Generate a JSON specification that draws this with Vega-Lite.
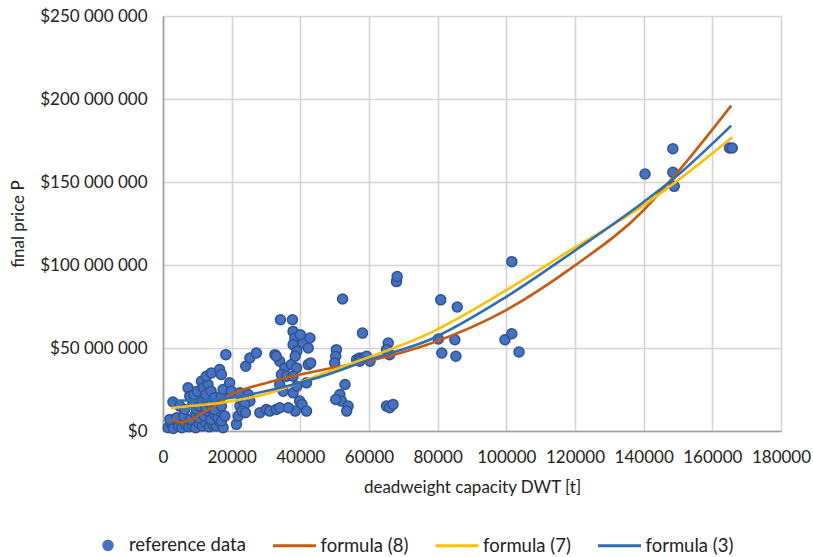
{
  "$schema": "https://vega.github.io/schema/vega-lite/v6.json",
  "autosize": {"type": "none"},
  "padding": {"left": 163, "top": 16, "right": 32, "bottom": 126},
  "width": 618,
  "height": 415,
  "background": "white",
  "config": {
    "font": "Lato",
    "locale": {"number": {"decimal": ".", "thousands": " ", "grouping": [3], "currency": ["$", ""]}},
    "view": {"stroke": null},
    "axis": {
      "labelFont": "Lato", "labelFontSize": 17, "labelColor": "#222222",
      "titleFont": "Lato", "titleFontSize": 17, "titleFontWeight": "normal", "titleColor": "#222222",
      "gridColor": "#D4D4D4", "gridWidth": 1.6,
      "domainColor": "#A0A0A0", "domainWidth": 1.6,
      "ticks": false, "labelOverlap": false, "labelFlush": false
    }
  },
  "datasets": {
    "points": [
      {"dwt": 1500, "price": 2000000, "series": "reference data"},
      {"dwt": 2500, "price": 4000000, "series": "reference data"},
      {"dwt": 3000, "price": 1500000, "series": "reference data"},
      {"dwt": 4500, "price": 3000000, "series": "reference data"},
      {"dwt": 5500, "price": 2000000, "series": "reference data"},
      {"dwt": 6500, "price": 4000000, "series": "reference data"},
      {"dwt": 7500, "price": 2500000, "series": "reference data"},
      {"dwt": 8500, "price": 3500000, "series": "reference data"},
      {"dwt": 9500, "price": 2000000, "series": "reference data"},
      {"dwt": 10500, "price": 4500000, "series": "reference data"},
      {"dwt": 11500, "price": 3000000, "series": "reference data"},
      {"dwt": 12500, "price": 5000000, "series": "reference data"},
      {"dwt": 13500, "price": 2500000, "series": "reference data"},
      {"dwt": 14500, "price": 4000000, "series": "reference data"},
      {"dwt": 15500, "price": 3000000, "series": "reference data"},
      {"dwt": 16500, "price": 5500000, "series": "reference data"},
      {"dwt": 17500, "price": 2000000, "series": "reference data"},
      {"dwt": 21400, "price": 4000000, "series": "reference data"},
      {"dwt": 2000, "price": 7000000, "series": "reference data"},
      {"dwt": 4000, "price": 8000000, "series": "reference data"},
      {"dwt": 6000, "price": 9000000, "series": "reference data"},
      {"dwt": 8000, "price": 7000000, "series": "reference data"},
      {"dwt": 9500, "price": 10000000, "series": "reference data"},
      {"dwt": 10500, "price": 8000000, "series": "reference data"},
      {"dwt": 11000, "price": 11000000, "series": "reference data"},
      {"dwt": 12000, "price": 9000000, "series": "reference data"},
      {"dwt": 13000, "price": 12000000, "series": "reference data"},
      {"dwt": 14000, "price": 7000000, "series": "reference data"},
      {"dwt": 15000, "price": 10000000, "series": "reference data"},
      {"dwt": 16000, "price": 8000000, "series": "reference data"},
      {"dwt": 16500, "price": 12000000, "series": "reference data"},
      {"dwt": 17000, "price": 6000000, "series": "reference data"},
      {"dwt": 18000, "price": 9000000, "series": "reference data"},
      {"dwt": 2900, "price": 17500000, "series": "reference data"},
      {"dwt": 4900, "price": 15000000, "series": "reference data"},
      {"dwt": 6300, "price": 13000000, "series": "reference data"},
      {"dwt": 8700, "price": 17000000, "series": "reference data"},
      {"dwt": 9700, "price": 13000000, "series": "reference data"},
      {"dwt": 10500, "price": 15000000, "series": "reference data"},
      {"dwt": 11500, "price": 18000000, "series": "reference data"},
      {"dwt": 12500, "price": 14000000, "series": "reference data"},
      {"dwt": 13000, "price": 19000000, "series": "reference data"},
      {"dwt": 14000, "price": 16000000, "series": "reference data"},
      {"dwt": 15000, "price": 13000000, "series": "reference data"},
      {"dwt": 16000, "price": 18000000, "series": "reference data"},
      {"dwt": 17000, "price": 15000000, "series": "reference data"},
      {"dwt": 7300, "price": 26000000, "series": "reference data"},
      {"dwt": 7800, "price": 21000000, "series": "reference data"},
      {"dwt": 9000, "price": 22000000, "series": "reference data"},
      {"dwt": 10000, "price": 24000000, "series": "reference data"},
      {"dwt": 11200, "price": 30000000, "series": "reference data"},
      {"dwt": 11700, "price": 26000000, "series": "reference data"},
      {"dwt": 12500, "price": 22000000, "series": "reference data"},
      {"dwt": 13100, "price": 28000000, "series": "reference data"},
      {"dwt": 14000, "price": 24000000, "series": "reference data"},
      {"dwt": 15000, "price": 20000000, "series": "reference data"},
      {"dwt": 17000, "price": 21000000, "series": "reference data"},
      {"dwt": 17500, "price": 25000000, "series": "reference data"},
      {"dwt": 19400, "price": 29000000, "series": "reference data"},
      {"dwt": 19900, "price": 24000000, "series": "reference data"},
      {"dwt": 12600, "price": 33000000, "series": "reference data"},
      {"dwt": 14100, "price": 35000000, "series": "reference data"},
      {"dwt": 16500, "price": 37000000, "series": "reference data"},
      {"dwt": 17000, "price": 34000000, "series": "reference data"},
      {"dwt": 18300, "price": 46000000, "series": "reference data"},
      {"dwt": 21900, "price": 9000000, "series": "reference data"},
      {"dwt": 22400, "price": 15000000, "series": "reference data"},
      {"dwt": 22900, "price": 19000000, "series": "reference data"},
      {"dwt": 22400, "price": 23000000, "series": "reference data"},
      {"dwt": 24800, "price": 22000000, "series": "reference data"},
      {"dwt": 25300, "price": 18000000, "series": "reference data"},
      {"dwt": 23800, "price": 16000000, "series": "reference data"},
      {"dwt": 24100, "price": 39000000, "series": "reference data"},
      {"dwt": 25300, "price": 44000000, "series": "reference data"},
      {"dwt": 27200, "price": 47000000, "series": "reference data"},
      {"dwt": 23000, "price": 12000000, "series": "reference data"},
      {"dwt": 24000, "price": 11000000, "series": "reference data"},
      {"dwt": 28200, "price": 11000000, "series": "reference data"},
      {"dwt": 30100, "price": 13000000, "series": "reference data"},
      {"dwt": 31100, "price": 12000000, "series": "reference data"},
      {"dwt": 33000, "price": 13000000, "series": "reference data"},
      {"dwt": 34000, "price": 14000000, "series": "reference data"},
      {"dwt": 32600, "price": 46000000, "series": "reference data"},
      {"dwt": 34000, "price": 42000000, "series": "reference data"},
      {"dwt": 35500, "price": 38000000, "series": "reference data"},
      {"dwt": 34500, "price": 34000000, "series": "reference data"},
      {"dwt": 34000, "price": 28000000, "series": "reference data"},
      {"dwt": 33000, "price": 45000000, "series": "reference data"},
      {"dwt": 34200, "price": 67000000, "series": "reference data"},
      {"dwt": 36000, "price": 33000000, "series": "reference data"},
      {"dwt": 35000, "price": 24000000, "series": "reference data"},
      {"dwt": 37700, "price": 67000000, "series": "reference data"},
      {"dwt": 37900, "price": 60000000, "series": "reference data"},
      {"dwt": 38400, "price": 56000000, "series": "reference data"},
      {"dwt": 37900, "price": 52000000, "series": "reference data"},
      {"dwt": 40800, "price": 53000000, "series": "reference data"},
      {"dwt": 42800, "price": 56000000, "series": "reference data"},
      {"dwt": 42300, "price": 50000000, "series": "reference data"},
      {"dwt": 39000, "price": 48000000, "series": "reference data"},
      {"dwt": 37400, "price": 40000000, "series": "reference data"},
      {"dwt": 38900, "price": 38000000, "series": "reference data"},
      {"dwt": 37900, "price": 33000000, "series": "reference data"},
      {"dwt": 42300, "price": 40000000, "series": "reference data"},
      {"dwt": 41800, "price": 29000000, "series": "reference data"},
      {"dwt": 37900, "price": 23000000, "series": "reference data"},
      {"dwt": 39000, "price": 27000000, "series": "reference data"},
      {"dwt": 39800, "price": 18000000, "series": "reference data"},
      {"dwt": 40500, "price": 16000000, "series": "reference data"},
      {"dwt": 41800, "price": 12000000, "series": "reference data"},
      {"dwt": 38500, "price": 12000000, "series": "reference data"},
      {"dwt": 36500, "price": 14000000, "series": "reference data"},
      {"dwt": 38500, "price": 45000000, "series": "reference data"},
      {"dwt": 40000, "price": 58000000, "series": "reference data"},
      {"dwt": 43000, "price": 41000000, "series": "reference data"},
      {"dwt": 50500, "price": 49000000, "series": "reference data"},
      {"dwt": 50300, "price": 45000000, "series": "reference data"},
      {"dwt": 50000, "price": 41000000, "series": "reference data"},
      {"dwt": 52300, "price": 79500000, "series": "reference data"},
      {"dwt": 53000, "price": 28000000, "series": "reference data"},
      {"dwt": 51500, "price": 22000000, "series": "reference data"},
      {"dwt": 52000, "price": 18000000, "series": "reference data"},
      {"dwt": 53900, "price": 15000000, "series": "reference data"},
      {"dwt": 53500, "price": 12000000, "series": "reference data"},
      {"dwt": 50300, "price": 19000000, "series": "reference data"},
      {"dwt": 56400, "price": 43000000, "series": "reference data"},
      {"dwt": 57300, "price": 44000000, "series": "reference data"},
      {"dwt": 58300, "price": 44000000, "series": "reference data"},
      {"dwt": 59300, "price": 45000000, "series": "reference data"},
      {"dwt": 60300, "price": 42000000, "series": "reference data"},
      {"dwt": 58100, "price": 59000000, "series": "reference data"},
      {"dwt": 57300, "price": 42000000, "series": "reference data"},
      {"dwt": 65600, "price": 53000000, "series": "reference data"},
      {"dwt": 65100, "price": 49000000, "series": "reference data"},
      {"dwt": 66000, "price": 46000000, "series": "reference data"},
      {"dwt": 65100, "price": 15000000, "series": "reference data"},
      {"dwt": 66000, "price": 14000000, "series": "reference data"},
      {"dwt": 67000, "price": 16000000, "series": "reference data"},
      {"dwt": 68000, "price": 90000000, "series": "reference data"},
      {"dwt": 68200, "price": 93000000, "series": "reference data"},
      {"dwt": 80900, "price": 79000000, "series": "reference data"},
      {"dwt": 85700, "price": 74700000, "series": "reference data"},
      {"dwt": 80200, "price": 55400000, "series": "reference data"},
      {"dwt": 85000, "price": 55000000, "series": "reference data"},
      {"dwt": 81200, "price": 47000000, "series": "reference data"},
      {"dwt": 85300, "price": 45000000, "series": "reference data"},
      {"dwt": 99600, "price": 55000000, "series": "reference data"},
      {"dwt": 101600, "price": 58600000, "series": "reference data"},
      {"dwt": 103700, "price": 47600000, "series": "reference data"},
      {"dwt": 101600, "price": 102000000, "series": "reference data"},
      {"dwt": 140400, "price": 154800000, "series": "reference data"},
      {"dwt": 148500, "price": 170000000, "series": "reference data"},
      {"dwt": 148500, "price": 155800000, "series": "reference data"},
      {"dwt": 148900, "price": 147400000, "series": "reference data"},
      {"dwt": 165000, "price": 170500000, "series": "reference data"},
      {"dwt": 165800, "price": 170500000, "series": "reference data"}
    ],
    "lines": [
      {"dwt": 2400, "price": 7200000, "series": "formula (8)"},
      {"dwt": 5000, "price": 5200000, "series": "formula (8)"},
      {"dwt": 8000, "price": 6800000, "series": "formula (8)"},
      {"dwt": 11700, "price": 11200000, "series": "formula (8)"},
      {"dwt": 15600, "price": 15800000, "series": "formula (8)"},
      {"dwt": 19500, "price": 21300000, "series": "formula (8)"},
      {"dwt": 31100, "price": 29500000, "series": "formula (8)"},
      {"dwt": 45700, "price": 36500000, "series": "formula (8)"},
      {"dwt": 60200, "price": 42300000, "series": "formula (8)"},
      {"dwt": 77700, "price": 52600000, "series": "formula (8)"},
      {"dwt": 100100, "price": 73000000, "series": "formula (8)"},
      {"dwt": 119500, "price": 99000000, "series": "formula (8)"},
      {"dwt": 140000, "price": 133000000, "series": "formula (8)"},
      {"dwt": 148700, "price": 153000000, "series": "formula (8)"},
      {"dwt": 165500, "price": 196000000, "series": "formula (8)"},
      {"dwt": 2400, "price": 13900000, "series": "formula (7)"},
      {"dwt": 8750, "price": 15200000, "series": "formula (7)"},
      {"dwt": 19500, "price": 17800000, "series": "formula (7)"},
      {"dwt": 31100, "price": 22900000, "series": "formula (7)"},
      {"dwt": 45700, "price": 33900000, "series": "formula (7)"},
      {"dwt": 60200, "price": 44600000, "series": "formula (7)"},
      {"dwt": 77700, "price": 59000000, "series": "formula (7)"},
      {"dwt": 100100, "price": 85000000, "series": "formula (7)"},
      {"dwt": 119500, "price": 110000000, "series": "formula (7)"},
      {"dwt": 140000, "price": 136000000, "series": "formula (7)"},
      {"dwt": 148700, "price": 149000000, "series": "formula (7)"},
      {"dwt": 165800, "price": 177000000, "series": "formula (7)"},
      {"dwt": 2400, "price": 18400000, "series": "formula (3)"},
      {"dwt": 8750, "price": 18400000, "series": "formula (3)"},
      {"dwt": 19500, "price": 19900000, "series": "formula (3)"},
      {"dwt": 31100, "price": 24500000, "series": "formula (3)"},
      {"dwt": 45700, "price": 32500000, "series": "formula (3)"},
      {"dwt": 60200, "price": 43000000, "series": "formula (3)"},
      {"dwt": 77700, "price": 55000000, "series": "formula (3)"},
      {"dwt": 100100, "price": 81000000, "series": "formula (3)"},
      {"dwt": 119500, "price": 108000000, "series": "formula (3)"},
      {"dwt": 140000, "price": 138000000, "series": "formula (3)"},
      {"dwt": 148700, "price": 152000000, "series": "formula (3)"},
      {"dwt": 165500, "price": 184000000, "series": "formula (3)"}
    ]
  },
  "encoding": {
    "x": {
      "field": "dwt", "type": "quantitative",
      "scale": {"domain": [0, 180000], "nice": false, "zero": true},
      "axis": {"values": [0, 20000, 40000, 60000, 80000, 100000, 120000, 140000, 160000, 180000], "format": "d", "labelPadding": 18, "title": "deadweight capacity DWT [t]", "titlePadding": 14}
    },
    "y": {
      "field": "price", "type": "quantitative",
      "scale": {"domain": [0, 250000000], "nice": false},
      "axis": {"values": [0, 50000000, 100000000, 150000000, 200000000, 250000000], "format": "$,.0f", "labelPadding": 16, "title": "final price P", "titlePadding": 12}
    },
    "color": {
      "field": "series", "type": "nominal",
      "scale": {
        "domain": ["reference data", "formula (8)", "formula (7)", "formula (3)"],
        "range": ["#4472C4", "#C55A11", "#FFC000", "#2E6DB4"]
      },
      "legend": {
        "orient": "none", "legendX": -83, "legendY": 506,
        "direction": "horizontal", "columns": 4, "title": null,
        "labelFont": "Lato", "labelFontSize": 18.5, "labelColor": "#222222",
        "symbolSize": 1849, "symbolStrokeWidth": 3, "labelOffset": 3, "columnPadding": 20.5,
        "symbolType": "stroke",
        "encode": {
          "symbols": {
            "update": {
              "shape": {"signal": "datum.value === 'reference data' ? 'M0.033,0A0.2,0.2,0,1,0,0.433,0A0.2,0.2,0,1,0,0.033,0Z' : 'stroke'"},
              "fill": {"signal": "datum.value === 'reference data' ? '#2F52A0' : 'transparent'"},
              "stroke": {"signal": "datum.value === 'reference data' ? '#2F52A0' : datum.value === 'formula (8)' ? '#C55A11' : datum.value === 'formula (7)' ? '#FFC000' : '#2E6DB4'"},
              "opacity": {"value": 1}
            }
          }
        }
      }
    }
  },
  "layer": [
    {
      "data": {"name": "points"},
      "mark": {"type": "point", "filled": true, "size": 100, "stroke": "#2F528F", "strokeWidth": 1.5, "opacity": 1}
    },
    {
      "data": {"name": "lines"},
      "mark": {"type": "line", "strokeWidth": 2.6, "interpolate": "monotone"}
    }
  ]
}
